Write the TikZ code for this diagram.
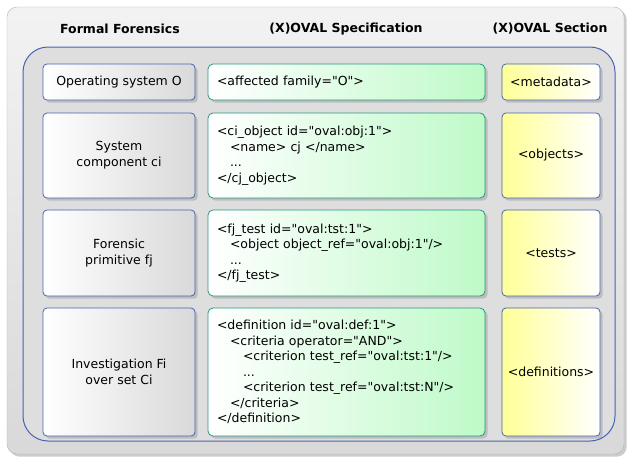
\documentclass[tikz,border=0pt]{standalone}
\usepackage{fontspec}
\setmainfont{DejaVu Sans}
\usetikzlibrary{shadows}

\definecolor{frameblue}{RGB}{70,100,180}
\definecolor{specteal}{RGB}{40,150,130}
\definecolor{specgreen}{RGB}{190,250,200}
\definecolor{secyellow}{RGB}{255,255,150}
\definecolor{panelgray}{RGB}{222,222,222}
\newcommand{\dq}{\XeTeXglyph\XeTeXcharglyph"22\relax}

\tikzset{
    formbox/.style={draw=frameblue, line width=0.8pt, rounded corners=4pt,
        left color=white, right color=gray!30, drop shadow={opacity=0.35},
        align=center, minimum width=152pt, font=\fontsize{12.5}{16}\selectfont},
    specbox/.style={draw=specteal, line width=0.8pt, rounded corners=5pt,
        left color=white, right color=specgreen, drop shadow={opacity=0.35},
        align=left, text width=259pt, inner sep=9pt, font=\fontsize{12.5}{15.5}\selectfont},
    secbox/.style={draw=frameblue, line width=0.8pt, rounded corners=4pt,
        left color=secyellow, right color=white, drop shadow={opacity=0.35},
        align=center, minimum width=98pt, inner sep=2pt, font=\fontsize{12.5}{15}\selectfont},
    colhead/.style={font=\bfseries\fontsize{12.5}{14}\selectfont}
}

\begin{document}
\begin{tikzpicture}[x=1pt,y=-1pt]
    \useasboundingbox (0,0) rectangle (631,463);
    %% outer panel
    \draw[draw=gray!60, top color=gray!10, bottom color=gray!30, rounded corners=10pt,
        drop shadow={opacity=0.4}] (7,7) rectangle (624,454);
    %% inner panel
    \draw[draw=frameblue, line width=1pt, fill=panelgray, rounded corners=25pt]
        (23,47) rectangle (615,441);
    %% column headings
    \node[colhead] (hform) at (120,29) {Formal Forensics};
    \node[colhead] (hspec) at (346,29) {(X)OVAL Specification};
    \node[colhead] (hsec)  at (550,29) {(X)OVAL Section};
    %% formal forensics column
    \node[formbox, minimum height=36pt]  (os)   at (119,82)    {Operating system O};
    \node[formbox, minimum height=85pt]  (comp) at (119,155.5) {System\\component ci};
    \node[formbox, minimum height=86pt]  (prim) at (119,253)   {Forensic\\primitive fj};
    \node[formbox, minimum height=128pt] (inv)  at (119,372)   {Investigation Fi\\over set Ci};
    %% specification column
    \node[specbox, minimum height=36pt]  (affected) at (346.5,82)
        {<affected family=\dq O\dq>};
    \node[specbox, minimum height=85pt]  (object)   at (346.5,155.5)
        {<ci\_object id=\dq oval:obj:1\dq>\\
         \hspace*{13pt}<name> cj </name>\\
         \hspace*{13pt}...\\
         </cj\_object>};
    \node[specbox, minimum height=86pt]  (test)     at (346.5,253)
        {<fj\_test id=\dq oval:tst:1\dq>\\
         \hspace*{13pt}<object object\_ref=\dq oval:obj:1\dq/>\\
         \hspace*{13pt}...\\
         </fj\_test>};
    \node[specbox, minimum height=128pt] (definition) at (346.5,372)
        {<definition id=\dq oval:def:1\dq>\\
         \hspace*{13pt}<criteria operator=\dq AND\dq>\\
         \hspace*{26pt}<criterion test\_ref=\dq oval:tst:1\dq/>\\
         \hspace*{26pt}...\\
         \hspace*{26pt}<criterion test\_ref=\dq oval:tst:N\dq/>\\
         \hspace*{13pt}</criteria>\\
         </definition>};
    %% section column
    \node[secbox, minimum height=36pt]  (metadata)    at (551,82)    {<metadata>};
    \node[secbox, minimum height=85pt]  (objects)     at (551,155.5) {<objects>};
    \node[secbox, minimum height=86pt]  (tests)       at (551,253)   {<tests>};
    \node[secbox, minimum height=128pt] (definitions) at (551,372)   {<definitions>};
\end{tikzpicture}
\end{document}
